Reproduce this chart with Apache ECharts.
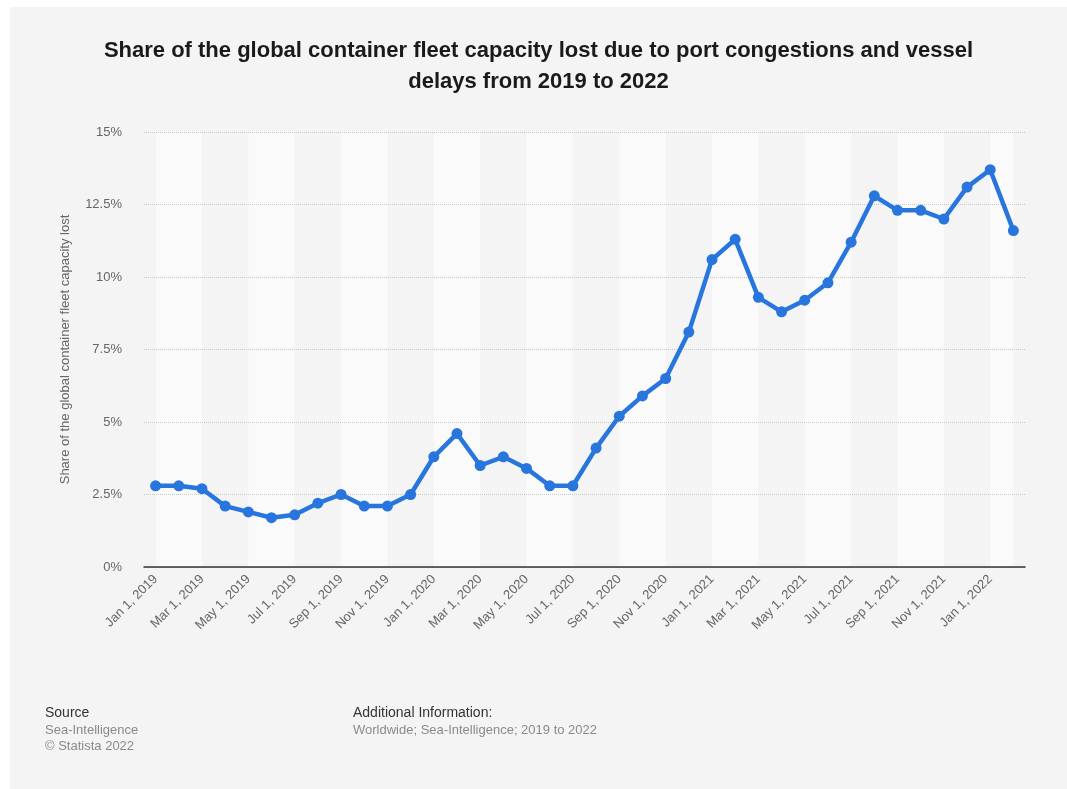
<!DOCTYPE html>
<html>
<head>
<meta charset="utf-8">
<script src="https://cdn.jsdelivr.net/npm/echarts@6/dist/echarts.min.js"></script>
<style>
html,body{margin:0;padding:0;background:#ffffff;}
#chart{position:absolute;left:10px;top:7px;width:1057px;height:782px;background:#f4f4f4;}
</style>
</head>
<body>
<div id="chart"></div>
<script>
const categories = [
  "Jan 1, 2019","Feb 1, 2019","Mar 1, 2019","Apr 1, 2019","May 1, 2019","Jun 1, 2019",
  "Jul 1, 2019","Aug 1, 2019","Sep 1, 2019","Oct 1, 2019","Nov 1, 2019","Dec 1, 2019",
  "Jan 1, 2020","Feb 1, 2020","Mar 1, 2020","Apr 1, 2020","May 1, 2020","Jun 1, 2020",
  "Jul 1, 2020","Aug 1, 2020","Sep 1, 2020","Oct 1, 2020","Nov 1, 2020","Dec 1, 2020",
  "Jan 1, 2021","Feb 1, 2021","Mar 1, 2021","Apr 1, 2021","May 1, 2021","Jun 1, 2021",
  "Jul 1, 2021","Aug 1, 2021","Sep 1, 2021","Oct 1, 2021","Nov 1, 2021","Dec 1, 2021",
  "Jan 1, 2022","Feb 1, 2022"
];
const shareLost = [
  2.8, 2.8, 2.7, 2.1, 1.9, 1.7, 1.8, 2.2, 2.5, 2.1, 2.1, 2.5,
  3.8, 4.6, 3.5, 3.8, 3.4, 2.8, 2.8, 4.1, 5.2, 5.9, 6.5, 8.1,
  10.6, 11.3, 9.3, 8.8, 9.2, 9.8, 11.2, 12.8, 12.3, 12.3, 12.0, 13.1,
  13.7, 11.6
];
const yTicks = [0, 2.5, 5, 7.5, 10, 12.5, 15];
const titleText = "Share of the global container fleet capacity lost due to port congestions and vessel\ndelays from 2019 to 2022";
const yAxisName = "Share of the global container fleet capacity lost";

// alternating light bands spanning two months each, starting at the first point
const bands = [];
for (let k = 0; k < categories.length - 1; k += 4) {
  const end = Math.min(k + 2, categories.length - 1);
  bands.push([{ xAxis: categories[k] }, { xAxis: categories[end] }]);
}

const chart = echarts.init(document.getElementById('chart'), null, { renderer: 'canvas' });
const font = 'Liberation Sans, Arial, sans-serif';

chart.setOption({
  backgroundColor: '#f4f4f4',
  animation: false,
  textStyle: { fontFamily: font },
  title: {
    text: titleText,
    left: 'center',
    top: 23,
    textStyle: { fontFamily: font, fontSize: 22, fontWeight: 'bold', color: '#1a1a1a', lineHeight: 31 }
  },
  grid: { left: 134, right: 42, top: 125, bottom: 222, containLabel: false },
  xAxis: {
    type: 'category',
    data: categories,
    boundaryGap: true,
    z: 3,
    axisLine: { show: true, lineStyle: { color: '#333333', width: 1.5 } },
    axisTick: { show: false },
    axisLabel: {
      interval: 1,
      rotate: 45,
      margin: 10,
      color: '#666666',
      fontSize: 13,
      fontFamily: font
    },
    splitLine: { show: false }
  },
  yAxis: {
    type: 'value',
    min: yTicks[0],
    max: yTicks[yTicks.length - 1],
    interval: 2.5,
    z: 3,
    name: yAxisName,
    nameLocation: 'middle',
    nameGap: 72,
    nameRotate: 90,
    nameTextStyle: { color: '#666666', fontSize: 13, fontFamily: font },
    axisLine: { show: false },
    axisTick: { show: false },
    axisLabel: {
      color: '#666666',
      fontSize: 13,
      margin: 22,
      fontFamily: font,
      formatter: function (v) { return v + '%'; }
    },
    splitLine: { show: true, lineStyle: { color: '#c8c8c8', type: [1, 1], width: 1 } }
  },
  series: [
    {
      type: 'line',
      name: 'bands',
      data: [],
      z: 1,
      silent: true,
      markArea: {
        silent: true,
        itemStyle: { color: '#fafafa' },
        data: bands
      }
    },
    {
      type: 'line',
      data: shareLost,
      symbol: 'circle',
      symbolSize: 11,
      lineStyle: { color: '#2876dd', width: 4.5 },
      itemStyle: { color: '#2876dd' },
      z: 5
    }
  ],
  graphic: [
    { type: 'text', left: 35, top: 699, style: { text: 'Source', fill: '#333333', font: '14px ' + font } },
    { type: 'text', left: 35, top: 717, style: { text: 'Sea-Intelligence', fill: '#8a8a8a', font: '13px ' + font } },
    { type: 'text', left: 35, top: 733, style: { text: '\u00A9 Statista 2022', fill: '#8a8a8a', font: '13px ' + font } },
    { type: 'text', left: 343, top: 699, style: { text: 'Additional Information:', fill: '#333333', font: '14px ' + font } },
    { type: 'text', left: 343, top: 717, style: { text: 'Worldwide; Sea-Intelligence; 2019 to 2022', fill: '#8a8a8a', font: '13px ' + font } }
  ]
});
</script>
</body>
</html>
